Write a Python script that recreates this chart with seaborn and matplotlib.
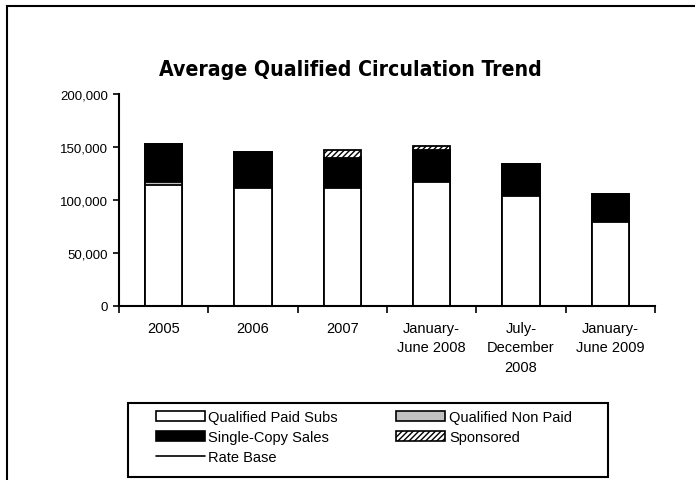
import matplotlib
matplotlib.use("Agg")
import matplotlib.pyplot as plt
import seaborn as sns
import pandas as pd
import numpy as np
from matplotlib.patches import Patch, Rectangle
from matplotlib.lines import Line2D
from matplotlib.ticker import FuncFormatter, FixedLocator

categories = ["2005", "2006", "2007", "January-\nJune 2008", "July-\nDecember\n2008", "January-\nJune 2009"]
paid_subs = [114500, 111500, 111500, 117000, 104000, 79500]
non_paid = [2600, 0, 0, 0, 0, 0]
single_copy = [35700, 33400, 28000, 30300, 30000, 26000]
sponsored = [0, 0, 7300, 3200, 0, 0]
y_ticks = [0, 50000, 100000, 150000, 200000]

sns.set_theme(style="white")
plt.rcParams["font.family"] = ["Liberation Sans", "DejaVu Sans"]
plt.rcParams["text.color"] = "black"
plt.rcParams["xtick.color"] = "black"
plt.rcParams["ytick.color"] = "black"
plt.rcParams["axes.labelcolor"] = "black"

W, H = 695, 481
fig = plt.figure(figsize=(W / 100, H / 100), dpi=100)
ax = fig.add_axes([119 / W, 1 - 306.7 / H, (655 - 119) / W, (306.7 - 95) / H])

df = pd.DataFrame({"cat": categories, "paid": paid_subs, "nonpaid": non_paid,
                   "single": single_copy, "spons": sponsored})
df["c1"] = df["paid"]
df["c2"] = df["c1"] + df["nonpaid"]
df["c3"] = df["c2"] + df["single"]
df["c4"] = df["c3"] + df["spons"]

bw = 0.415
layers = [("c4", "white", "//////"), ("c3", "black", None), ("c2", "#C0C0C0", None), ("c1", "white", None)]
for col, color, hatch in layers:
    sns.barplot(data=df, x="cat", y=col, color=color, width=bw, edgecolor="black",
                linewidth=1.3, hatch=hatch, saturation=1, ax=ax, zorder=2)

ax.set_xlim(-0.5, 5.5)
ax.set_ylim(0, 200000)
ax.set_xlabel("")
ax.set_ylabel("")
ax.yaxis.set_major_locator(FixedLocator(y_ticks))
ax.yaxis.set_major_formatter(FuncFormatter(lambda v, p: f"{int(v):,}"))
ax.set_xticks(range(len(categories)))
ax.set_xticklabels(categories, fontsize=10.5, linespacing=1.5, color="black")
ax.set_xticks(np.arange(-0.5, 6, 1), minor=True)
ax.tick_params(axis="x", which="major", length=0, pad=11)
ax.tick_params(axis="x", which="minor", length=5, width=1.2, color="black", direction="out", bottom=True)
ax.tick_params(axis="y", length=4, width=1.2, color="black", labelcolor="black", direction="out",
               left=True, labelsize=9.5, pad=4)
for s in ["top", "right"]:
    ax.spines[s].set_visible(False)
for s in ["left", "bottom"]:
    ax.spines[s].set_color("black")
    ax.spines[s].set_linewidth(1.5)
ax.set_facecolor("white")

fig.text(350 / W, 1 - 70 / H, "Average Qualified Circulation Trend", ha="center", va="center",
         fontsize=15.2, fontweight="bold", fontstretch="condensed", family=["DejaVu Sans"], color="black")

handles = [
    Patch(facecolor="white", edgecolor="black", linewidth=1.2, label="Qualified Paid Subs"),
    Patch(facecolor="black", edgecolor="black", linewidth=1.2, label="Single-Copy Sales"),
    Line2D([], [], color="black", linewidth=1.2, label="Rate Base"),
    Patch(facecolor="#C0C0C0", edgecolor="black", linewidth=1.2, label="Qualified Non Paid"),
    Patch(facecolor="white", edgecolor="black", linewidth=1.2, hatch="//////", label="Sponsored"),
]
leg = fig.legend(handles=handles, ncol=2, loc="upper left",
                 bbox_to_anchor=(156 / W, 1 - 411 / H),
                 fontsize=10.5, frameon=False, labelcolor="black",
                 handlelength=3.35, handleheight=0.7, handletextpad=0.25, labelspacing=0.4,
                 borderpad=0, borderaxespad=0, columnspacing=4.0)

fig.patches.append(Rectangle((128 / W, 1 - 478 / H), (608 - 128) / W, (478 - 404) / H,
                             transform=fig.transFigure, fill=False, edgecolor="black", linewidth=1.5))
fig.patches.append(Rectangle((7 / W, -0.1), 1.2, 1 - 7 / H + 0.1, transform=fig.transFigure,
                             fill=False, edgecolor="black", linewidth=1.5))

fig.savefig("out.png", dpi=100, facecolor="white")
